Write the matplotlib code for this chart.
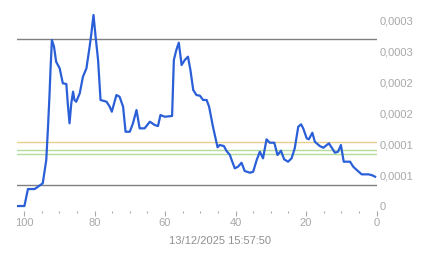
import matplotlib.pyplot as plt
from matplotlib.ticker import MultipleLocator

# age (units ago) and value of the blue series
edad = [102.1, 99.9, 98.9, 97.0, 94.7, 93.7, 93.2, 92.8, 92.5, 92.1, 91.5, 90.9,
        89.9, 89.0, 88.0, 87.6, 87.1, 86.6, 86.1, 85.7, 85.2, 84.2, 83.3, 82.3,
        81.4, 80.9, 80.3, 79.7, 79.0, 78.3, 76.6, 75.7, 75.1, 73.8, 72.9, 71.9,
        71.2, 70.0, 69.1, 68.1, 67.2, 65.8, 64.3, 62.9, 62.0, 61.3, 60.1, 58.0,
        57.5, 56.8, 56.1, 55.3, 54.4, 53.5, 52.8, 52.0, 51.1, 50.1, 49.2, 48.2,
        47.5, 46.4, 45.1, 44.5, 43.3, 42.6, 41.6, 41.1, 40.2, 39.3, 38.3, 37.4,
        35.9, 35.0, 34.0, 33.1, 32.2, 31.2, 30.3, 29.0, 28.1, 27.1, 26.2, 25.1,
        24.1, 23.2, 22.2, 21.4, 20.8, 19.8, 19.2, 18.2, 17.5, 16.1, 15.1, 13.5,
        12.6, 11.8, 10.9, 10.1, 9.3, 7.5, 6.6, 5.6, 4.2, 2.3, 1.4, 0.4]
valor_e6 = [0, 0, 27.4, 27.4, 36.6, 74.2, 127.9, 176.3, 219.4, 267.7, 256.9, 232.7,
            222.1, 197.9, 196.8, 165.6, 133.4, 165.6, 184.4, 171.0, 168.2, 181.8, 208.5, 222.1,
            256.9, 278.5, 308.1, 273.1, 235.5, 171.0, 168.2, 160.2, 152.1, 179.0, 176.3, 160.2,
            119.8, 119.8, 133.4, 154.8, 125.3, 125.3, 136.0, 130.6, 129.0, 146.8, 144.0, 145.2,
            235.5, 251.6, 263.4, 227.4, 235.5, 240.8, 219.4, 187.1, 179.0, 177.9, 171.0, 171.0,
            160.2, 127.9, 94.7, 98.4, 96.8, 89.2, 82.3, 74.2, 60.8, 63.4, 69.8, 56.5,
            53.7, 55.3, 74.2, 87.6, 76.9, 107.6, 102.1, 102.1, 82.3, 89.2, 75.3, 71.5,
            76.9, 93.1, 127.9, 131.8, 125.3, 109.2, 107.6, 118.2, 103.7, 96.8, 94.0, 101.1,
            93.1, 86.0, 87.6, 98.4, 71.5, 71.5, 63.4, 58.1, 51.1, 51.1, 50.0, 47.3]
valor = [v * 1e-6 for v in valor_e6]

# reference levels
niveles = [0.000269, 0.0000339, 0.000103, 0.0000903, 0.0000839]
colores_niveles = ['#808080', '#808080', '#e8cf8c', '#b4dc9c', '#b4dc9c']

ticks_y = [0, 0.00005, 0.0001, 0.00015, 0.0002, 0.00025, 0.0003]
etiquetas_y = ['0', '0,0001', '0,0001', '0,0002', '0,0002', '0,0003', '0,0003']
ticks_x = [0, 20, 40, 60, 80, 100]
fecha = '13/12/2025 15:57:50'

plt.rcParams['font.family'] = ['Liberation Sans', 'DejaVu Sans']
gris = '#a8a8a8'

fig = plt.figure(figsize=(4.43, 2.58), dpi=100)
ax = fig.add_axes([0.0384, 0.1822, 0.8115, 0.7643])

for nivel, c in zip(niveles, colores_niveles):
    ax.axhline(nivel, color=c, lw=1.0, zorder=1)

ax.plot(edad, valor, color='#2a5fd8', lw=1.6, zorder=3, solid_joinstyle='round')

ax.set_xlim(102, 0)
ax.set_ylim(-0.000008, 0.00031)

for s in ax.spines.values():
    s.set_visible(False)

ax.set_xticks(ticks_x)
ax.set_xticklabels([str(t) for t in ticks_x])
ax.xaxis.set_minor_locator(MultipleLocator(5))
ax.tick_params(axis='x', which='major', length=3.3, width=0.8, color=gris,
               labelsize=8, labelcolor=gris, pad=2)
ax.tick_params(axis='x', which='minor', length=1.2, width=0.8, color=gris)

ax.yaxis.tick_right()
ax.set_yticks(ticks_y)
ax.set_yticklabels(etiquetas_y)
ax.tick_params(axis='y', length=0, labelsize=8, labelcolor=gris, pad=2)

fig.text(220 / 443, (258 - 241) / 258, fecha, ha='center', va='center',
         fontsize=8, color='#909090')

fig.savefig('out.png', dpi=100)
